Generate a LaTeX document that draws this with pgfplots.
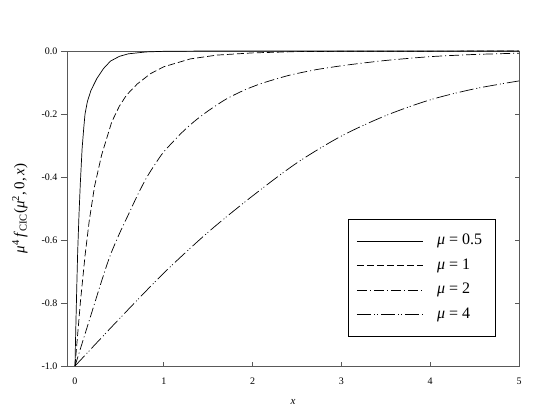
\documentclass[border=0pt]{standalone}
\usepackage{pgfplots}
\pgfplotsset{compat=1.18}
\usepackage{fontspec}
\setmainfont{Liberation Serif}

% curves
\pgfplotstableread{
x y
0 -1
0.005 -0.93
0.01 -0.87
0.02 -0.75
0.03 -0.64
0.045 -0.52
0.06 -0.42
0.08 -0.31
0.1 -0.24
0.113 -0.20
0.14 -0.16
0.18 -0.125
0.245 -0.088
0.32 -0.056
0.4 -0.032
0.5 -0.017
0.6 -0.009
0.8 -0.003
1.0 -0.001
1.5 0
5 0
}\muhalf
\pgfplotstableread{
x y
0 -1
0.03 -0.90
0.06 -0.80
0.113 -0.65
0.16 -0.54
0.22 -0.43
0.3 -0.33
0.414 -0.225
0.5 -0.175
0.58 -0.14
0.7 -0.105
0.85 -0.072
1.0 -0.05
1.3 -0.025
1.6 -0.013
2.0 -0.006
2.5 -0.002
3.0 -0.001
5 0
}\muone
\pgfplotstableread{
x y
0 -1
0.1 -0.91
0.2 -0.82
0.3 -0.73
0.395 -0.65
0.5 -0.58
0.6 -0.52
0.7 -0.46
0.8 -0.405
0.9 -0.36
1.0 -0.32
1.2 -0.26
1.35 -0.222
1.5 -0.19
1.7 -0.153
1.9 -0.125
2.1 -0.103
2.4 -0.078
2.7 -0.06
3.05 -0.045
3.5 -0.03
4.0 -0.018
4.5 -0.011
5.0 -0.007
}\mutwo
\pgfplotstableread{
x y
0 -1
0.5 -0.85
1.0 -0.705
1.5 -0.575
2.0 -0.46
2.5 -0.355
3.0 -0.27
3.5 -0.205
4.0 -0.155
4.5 -0.12
5.0 -0.095
}\mufour

\begin{document}
\begin{tikzpicture}[x=1pt,y=1pt]
\pgfplotsset{
  base/.style={
    scale only axis, width=452pt, height=315pt,
    xmin=-0.09, xmax=5, ymin=-1, ymax=0,
    axis line style={gray!70!black, line width=0.6pt},
    every tick/.style={gray!70!black, line width=0.6pt},
    tick label style={font=\fontsize{10}{10}\selectfont},
    /pgf/number format/assume math mode=true,
  }
}
\begin{axis}[base, at={(0,0)}, anchor=south west,
  xtick={0,1,2,3,4,5}, xtick pos=bottom,
  ytick={-1,-0.8,-0.6,-0.4,-0.2,0}, ytick pos=right, yticklabels={},
  tick align=inside, major tick length=4.5pt,
  xticklabel style={yshift=-8pt},
  xlabel={\textit{x}},
  xlabel style={at={(axis description cs:0.5,-0.114)}, anchor=center,
    font=\fontsize{11}{11}\selectfont},
  legend style={at={(0.622,0.466)}, anchor=north west, draw=black,
    line width=0.6pt, font=\fontsize{16}{16}\selectfont,
    inner xsep=8pt, inner ysep=12pt, row sep=5.5pt, column sep=9pt,
    nodes={inner xsep=5pt, inner ysep=2pt, text height=11pt, text depth=4pt}},
  legend cell align=left,
  legend image code/.code={\draw[#1] (0pt,0pt) -- (66pt,0pt);},
  every axis plot/.append style={black, line width=0.7pt},
]
\addplot[solid] table {\muhalf};
\addlegendentry{\textit{μ} = 0.5}
\addplot[dash pattern=on 7pt off 3pt] table {\muone};
\addlegendentry{\textit{μ} = 1}
\addplot[smooth, tension=0.4, dash pattern=on 10pt off 3pt on 1pt off 3pt] table {\mutwo};
\addlegendentry{\textit{μ} = 2}
\addplot[smooth, tension=0.5, dash pattern=on 14pt off 3pt on 1pt off 2pt on 1pt off 3pt] table {\mufour};
\addlegendentry{\textit{μ} = 4}
\end{axis}
\begin{axis}[base, at={(0,0)}, anchor=south west,
  axis x line=none, axis y line*=left,
  ytick={-1,-0.8,-0.6,-0.4,-0.2,0},
  tick align=outside, major tick length=6pt,
  yticklabel style={/pgf/number format/.cd, fixed, fixed zerofill, precision=1},
  ylabel={\textit{μ}\textsuperscript{4}\,\textit{f}\textsubscript{CIC}(\textit{μ}\textsuperscript{2},\,0,\,\textit{x})},
  ylabel style={at={(axis description cs:-0.104,0.5)}, anchor=center,
    font=\fontsize{15}{15}\selectfont},
]
\end{axis}
\path (-67pt,-46pt) rectangle (478pt,366pt);
\end{tikzpicture}
\end{document}
